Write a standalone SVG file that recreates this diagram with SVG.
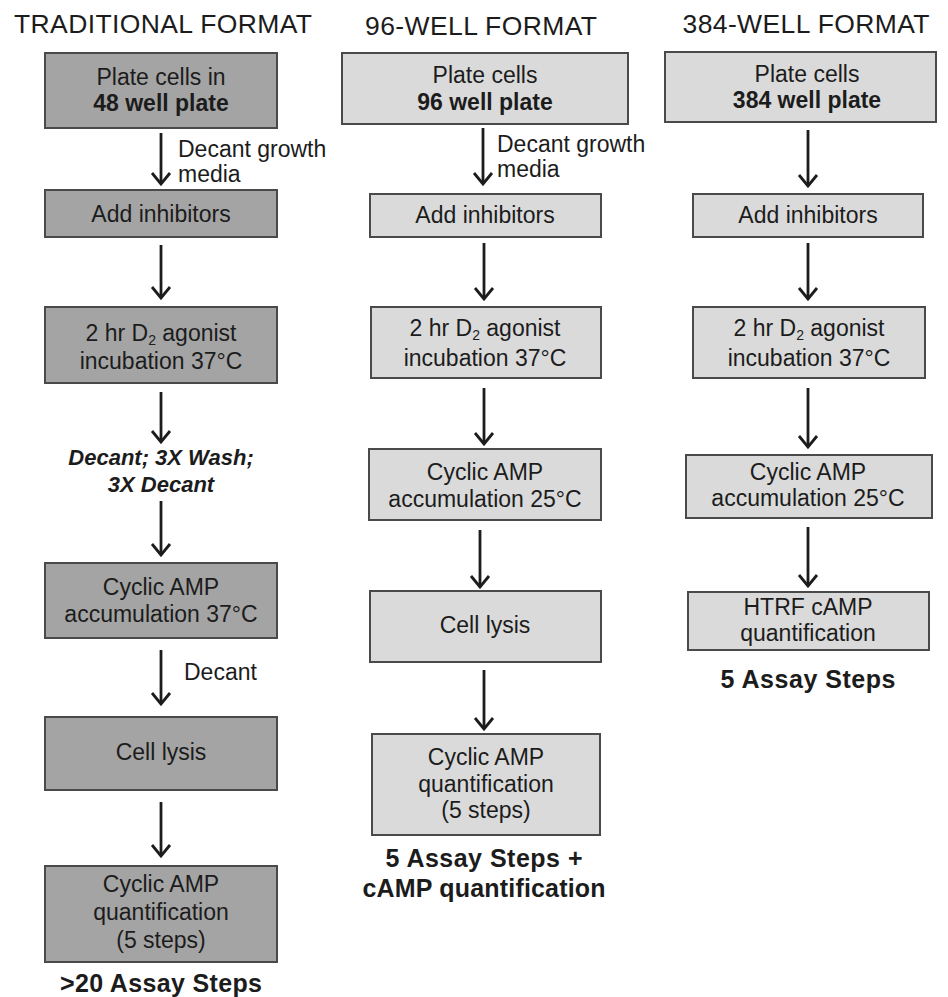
<svg xmlns="http://www.w3.org/2000/svg" width="948" height="997" viewBox="0 0 948 997">
<defs>
<style>
text{font-family:"Liberation Sans",Arial,sans-serif;fill:#1c1c1c;text-anchor:middle}
.t{font-size:26.5px}
.b{font-size:23px}
.bb{font-size:23px;font-weight:bold}
.lbl{font-size:23px;text-anchor:start}
.it{font-size:22px;font-weight:bold;font-style:italic}
.ft{font-size:25px;font-weight:bold}
.dark{fill:#a4a4a4;stroke:#4a4a4a;stroke-width:2}
.light{fill:#dadada;stroke:#4a4a4a;stroke-width:2}
.arr{stroke:#1c1c1c;stroke-width:2.8;fill:none;marker-end:url(#ah)}
.sub{font-size:14px}
</style>
<marker id="ah" markerUnits="userSpaceOnUse" viewBox="-2 -11 16 22" markerWidth="16" markerHeight="22" refX="12" refY="0" orient="auto">
<path d="M1,-9 L12,0 L1,9" fill="none" stroke="#1c1c1c" stroke-width="2.8"/>
</marker>
</defs>
<rect width="948" height="997" fill="#fff"/>

<g id="titles">
<text class="t" x="163" y="33" textLength="298">TRADITIONAL FORMAT</text>
<text class="t" x="481" y="35" textLength="232">96-WELL FORMAT</text>
<text class="t" x="806" y="33" textLength="247">384-WELL FORMAT</text>
</g>

<!-- Column 1 -->
<g id="c1n1"><rect class="dark" x="45" y="53" width="232" height="75"/>
<text class="b" x="161" y="85">Plate cells in</text>
<text class="bb" x="161" y="111">48 well plate</text></g>
<g id="c1n2"><rect class="dark" x="45" y="190" width="232" height="47"/>
<text class="b" x="161" y="222">Add inhibitors</text></g>
<g id="c1n3"><rect class="dark" x="45" y="307" width="232" height="76"/>
<text class="b" x="161" y="341">2 hr D<tspan class="sub" dy="4">2</tspan><tspan dy="-4"> agonist</tspan></text>
<text class="b" x="161" y="369">incubation 37°C</text></g>
<g id="c1wash">
<text class="it" x="161" y="465">Decant; 3X Wash;</text>
<text class="it" x="161" y="492">3X Decant</text></g>
<g id="c1n4"><rect class="dark" x="45" y="563" width="232" height="75"/>
<text class="b" x="161" y="595">Cyclic AMP</text>
<text class="b" x="161" y="622">accumulation 37°C</text></g>
<g id="c1n5"><rect class="dark" x="45" y="717" width="232" height="73"/>
<text class="b" x="161" y="760">Cell lysis</text></g>
<g id="c1n6"><rect class="dark" x="45" y="866" width="232" height="96"/>
<text class="b" x="161" y="892">Cyclic AMP</text>
<text class="b" x="161" y="920">quantification</text>
<text class="b" x="161" y="948">(5 steps)</text></g>
<g id="c1foot"><text class="ft" x="161" y="992" textLength="202">&gt;20 Assay Steps</text></g>

<!-- Column 2 -->
<g id="c2n1"><rect class="light" x="342" y="53" width="286" height="71"/>
<text class="b" x="485" y="83">Plate cells</text>
<text class="bb" x="485" y="110">96 well plate</text></g>
<g id="c2n2"><rect class="light" x="370" y="194" width="231" height="43"/>
<text class="b" x="485" y="223">Add inhibitors</text></g>
<g id="c2n3"><rect class="light" x="371" y="307" width="230" height="71"/>
<text class="b" x="485" y="336">2 hr D<tspan class="sub" dy="4">2</tspan><tspan dy="-4"> agonist</tspan></text>
<text class="b" x="485" y="366">incubation 37°C</text></g>
<g id="c2n4"><rect class="light" x="369" y="449" width="232" height="71"/>
<text class="b" x="485" y="480">Cyclic AMP</text>
<text class="b" x="485" y="507">accumulation 25°C</text></g>
<g id="c2n5"><rect class="light" x="370" y="591" width="231" height="71"/>
<text class="b" x="485" y="633">Cell lysis</text></g>
<g id="c2n6"><rect class="light" x="372" y="734" width="228" height="101"/>
<text class="b" x="486" y="765">Cyclic AMP</text>
<text class="b" x="486" y="792">quantification</text>
<text class="b" x="486" y="818">(5 steps)</text></g>
<g id="c2foot">
<text class="ft" x="484" y="867" textLength="197">5 Assay Steps +</text>
<text class="ft" x="484" y="897" textLength="243">cAMP quantification</text></g>

<!-- Column 3 -->
<g id="c3n1"><rect class="light" x="665" y="52" width="271" height="70"/>
<text class="b" x="807" y="82">Plate cells</text>
<text class="bb" x="807" y="108">384 well plate</text></g>
<g id="c3n2"><rect class="light" x="693" y="194" width="230" height="43"/>
<text class="b" x="808" y="223">Add inhibitors</text></g>
<g id="c3n3"><rect class="light" x="693" y="307" width="232" height="71"/>
<text class="b" x="809" y="336">2 hr D<tspan class="sub" dy="4">2</tspan><tspan dy="-4"> agonist</tspan></text>
<text class="b" x="809" y="366">incubation 37°C</text></g>
<g id="c3n4"><rect class="light" x="686" y="455" width="246" height="63"/>
<text class="b" x="808" y="480">Cyclic AMP</text>
<text class="b" x="808" y="506">accumulation 25°C</text></g>
<g id="c3n5"><rect class="light" x="688" y="592" width="241" height="58"/>
<text class="b" x="808" y="615">HTRF cAMP</text>
<text class="b" x="808" y="641">quantification</text></g>
<g id="c3foot"><text class="ft" x="808" y="688" textLength="175">5 Assay Steps</text></g>

<g id="connectors">
<line class="arr" x1="161" y1="133" x2="161" y2="184"/>
<line class="arr" x1="161" y1="245" x2="161" y2="298"/>
<line class="arr" x1="161" y1="392" x2="161" y2="442"/>
<line class="arr" x1="161" y1="501" x2="161" y2="555"/>
<line class="arr" x1="161" y1="650" x2="161" y2="704"/>
<line class="arr" x1="161" y1="802" x2="161" y2="856"/>
<line class="arr" x1="483" y1="128" x2="483" y2="184"/>
<line class="arr" x1="484" y1="243" x2="484" y2="299"/>
<line class="arr" x1="484" y1="388" x2="484" y2="444"/>
<line class="arr" x1="480" y1="530" x2="480" y2="587"/>
<line class="arr" x1="484" y1="670" x2="484" y2="729"/>
<line class="arr" x1="808" y1="130" x2="808" y2="186"/>
<line class="arr" x1="808" y1="243" x2="808" y2="299"/>
<line class="arr" x1="808" y1="388" x2="808" y2="447"/>
<line class="arr" x1="808" y1="527" x2="808" y2="586"/>
</g>
<g id="connector-labels">
<text class="lbl" x="178" y="157">Decant growth</text>
<text class="lbl" x="178" y="182">media</text>
<text class="lbl" x="497" y="152">Decant growth</text>
<text class="lbl" x="497" y="177">media</text>
<text class="lbl" x="184" y="680">Decant</text>
</g>
</svg>
